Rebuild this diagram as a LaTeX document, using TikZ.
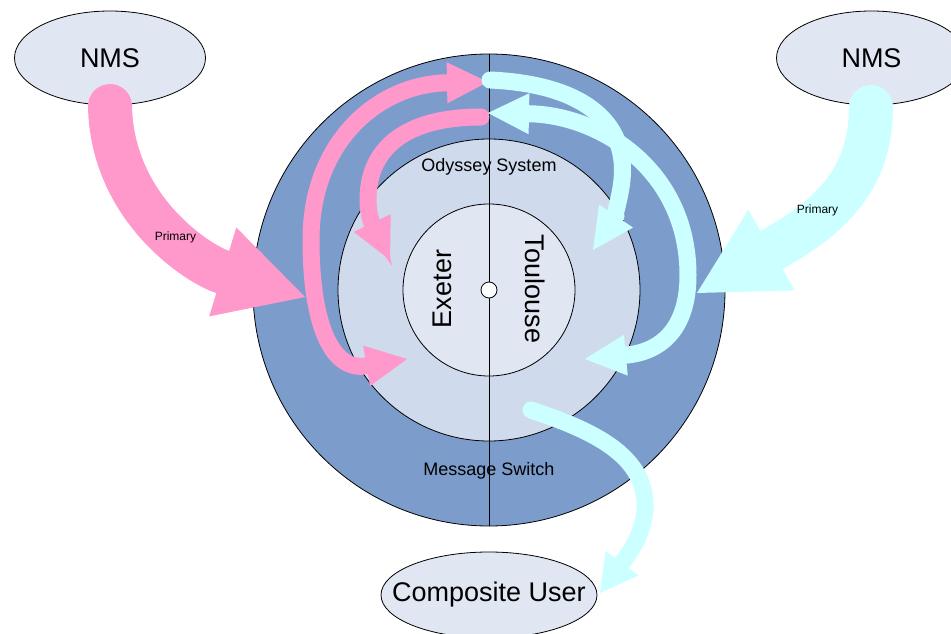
\documentclass[tikz,border=0pt]{standalone}
\usepackage{fontspec}
\setmainfont{Liberation Sans}
\usetikzlibrary{arrows.meta,shapes.geometric}
\definecolor{ringout}{HTML}{7C9DCC}
\definecolor{ringmid}{HTML}{CFDAEC}
\definecolor{ringin}{HTML}{E1E7F2}
\definecolor{pinkc}{HTML}{FF99CC}
\definecolor{cyanc}{HTML}{CCFFFF}
\newcommand{\fsbig}{\fontsize{27pt}{32pt}\selectfont}
\newcommand{\fsmid}{\fontsize{18pt}{21pt}\selectfont}
\newcommand{\fssmall}{\fontsize{12pt}{14pt}\selectfont}
\begin{document}
\begin{tikzpicture}[x=1pt,y=-1pt,
  ell/.style={ellipse, draw=black, line width=0.8pt, fill=ringin, inner sep=0pt},
  disc/.style={circle, draw=black, line width=0.8pt, inner sep=0pt},
  lbl/.style={inner sep=0pt, text=black},
  band/.style={line width=17pt, line cap=round},
  fatband/.style={line width=44pt, line cap=round},
  headS/.style={-{Triangle[length=41pt 0 0, width=41pt 0 0, line width=0pt 0 0]}},
  headD/.style={{Triangle[length=41pt 0 0, width=41pt 0 0, line width=0pt 0 0]}-{Triangle[length=41pt 0 0, width=41pt 0 0, line width=0pt 0 0]}},
  headB/.style={-{Triangle[length=86pt 0 0, width=93pt 0 0, line width=0pt 0 0]}},
  headU/.style={-{Triangle[length=37pt 0 0, width=41pt 0 0, line width=0pt 0 0]}}
]
\useasboundingbox (0,0) rectangle (951,634);
\fill[white] (0,0) rectangle (951,634);

% ellipses
\node[ell, minimum width=191pt, minimum height=94pt] (nmsL) at (110,58) {};
\node[ell, minimum width=190pt, minimum height=94pt] (nmsR) at (871.5,58) {};
\node[ell, minimum width=216pt, minimum height=86pt] (cu) at (489,595) {};
\node[lbl, font=\fsbig] (nmsLt) at (nmsL.center) {NMS};
\node[lbl, font=\fsbig] (nmsRt) at (nmsR.center) {NMS};
\node[lbl, font=\fsbig] (cut) at (cu.center) {Composite User};

% rings
\node[disc, fill=ringout, minimum size=472pt] (ms) at (489,290) {};
\node[disc, fill=ringmid, minimum size=302pt] (ody) at (489,290) {};
\node[disc, fill=ringin, minimum size=172pt] (core) at (489,290) {};
\draw[line width=0.8pt] (ms.north) -- (ms.south);
\node[disc, fill=white, minimum size=16pt] (hub) at (489,290) {};

% texts
\node[lbl, font=\fsmid, anchor=base] (odyt) at (489,171.7) {Odyssey System};
\node[lbl, font=\fsmid, anchor=base] (mst) at (489,475) {Message Switch};
\node[lbl, font=\fsbig, anchor=base, rotate=90] (ext) at (451,289) {Exeter};
\node[lbl, font=\fsbig, anchor=base, rotate=-90] (tlt) at (525,289) {Toulouse};

% coordinates
\coordinate (pA0) at (110,106);   \coordinate (pA1) at (305,297);
\coordinate (cA0) at (871,107);   \coordinate (cA1) at (697,293);
\coordinate (pO0) at (488,82);    \coordinate (pO1) at (407,359);
\coordinate (pI0) at (481,117);   \coordinate (pI1) at (390,260);
\coordinate (cO0) at (490,80);    \coordinate (cO1) at (593,250);
\coordinate (cD0) at (488,113);   \coordinate (cD1) at (585,359);
\coordinate (cU0) at (531,410);   \coordinate (cU1) at (600,593);

% ring arrows
\draw[band, pinkc, headD] (pO0) .. controls (380,84) and (311,140) .. (311,240)
      .. controls (311,320) and (330,372) .. (pO1);
\draw[band, pinkc, headS] (pI0) .. controls (410,117) and (368,145) .. (368,200)
      .. controls (368,222) and (378,235) .. (pI1);
\draw[band, cyanc, headD] (cD0) .. controls (600,115) and (688,170) .. (688,275)
      .. controls (688,330) and (660,352) .. (cD1);
\draw[band, cyanc, headS] (cO0) .. controls (580,84) and (628,120) .. (622,180)
      .. controls (620,200) and (612,222) .. (cO1);
\draw[band, cyanc, headU] (cU0) .. controls (591,430) and (648,455) .. (645,510)
      .. controls (643,535) and (628,555) .. (cU1);

% primary arrows
\draw[fatband, pinkc, headB] (pA0) .. controls (112,210) and (200,265) .. (pA1);
\draw[fatband, cyanc, headB] (cA0) .. controls (871,190) and (815,225) .. (cA1);
\node[lbl, font=\fssmall, anchor=base] (prL) at (175.5,240.7) {Primary};
\node[lbl, font=\fssmall, anchor=base] (prR) at (817.5,213.3) {Primary};
\end{tikzpicture}
\end{document}
